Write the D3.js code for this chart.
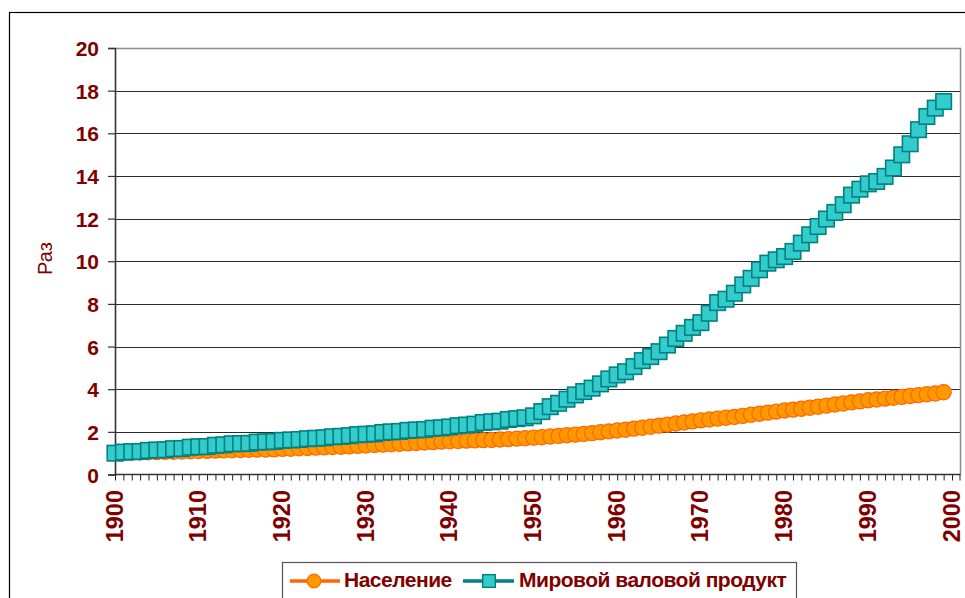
<!DOCTYPE html>
<html><head><meta charset="utf-8">
<script src="https://cdn.jsdelivr.net/npm/d3@7/dist/d3.min.js"></script>
<style>
html,body{margin:0;padding:0;background:#fff;}
svg{display:block;font-family:"Liberation Sans",Arial,sans-serif;}
</style></head>
<body>
<svg id="chart" width="965" height="598"></svg>
<script>
const years = d3.range(1900, 2000);
const population = [
1.00,1.01,1.02,1.03,1.04,1.05,1.06,1.07,1.08,1.09,
1.10,1.11,1.12,1.13,1.14,1.15,1.16,1.17,1.17,1.18,
1.20,1.21,1.23,1.24,1.26,1.27,1.29,1.30,1.32,1.34,
1.36,1.38,1.40,1.42,1.44,1.46,1.48,1.50,1.52,1.54,
1.56,1.57,1.59,1.60,1.61,1.62,1.64,1.66,1.68,1.70,
1.73,1.75,1.78,1.81,1.84,1.87,1.90,1.94,1.98,2.02,
2.06,2.10,2.15,2.19,2.24,2.29,2.34,2.39,2.44,2.49,
2.54,2.58,2.62,2.66,2.70,2.75,2.80,2.85,2.90,2.95,
3.00,3.04,3.08,3.13,3.18,3.23,3.28,3.33,3.38,3.43,
3.48,3.52,3.56,3.60,3.64,3.68,3.72,3.76,3.80,3.86];
const gdp = [
1.00,1.05,1.07,1.08,1.13,1.15,1.16,1.21,1.22,1.28,
1.30,1.31,1.37,1.39,1.44,1.45,1.46,1.52,1.53,1.55,
1.60,1.62,1.64,1.68,1.70,1.72,1.77,1.79,1.82,1.87,
1.89,1.91,1.97,2.00,2.02,2.07,2.09,2.11,2.17,2.19,
2.23,2.29,2.32,2.36,2.44,2.47,2.50,2.58,2.62,2.66,
2.75,2.95,3.18,3.34,3.53,3.73,3.89,4.05,4.25,4.48,
4.67,4.82,5.06,5.34,5.53,5.76,6.07,6.38,6.62,6.90,
7.12,7.56,8.06,8.22,8.50,8.89,9.20,9.60,9.91,10.07,
10.22,10.46,10.85,11.24,11.63,11.98,12.29,12.65,13.10,13.38,
13.63,13.74,13.98,14.37,14.99,15.51,16.17,16.79,17.18,17.49];
const yTicks = [0,2,4,6,8,10,12,14,16,18,20];
const xTickLabels = [1900,1910,1920,1930,1940,1950,1960,1970,1980,1990,2000];
const seriesNames = ["Население","Мировой валовой продукт"];
const yAxisTitle = "Раз";

const textColor = "#800000";
const svg = d3.select("#chart");

// chart border
svg.append("rect").attr("x",9.5).attr("y",12.5).attr("width",1000).attr("height",1000)
  .attr("fill","#fff").attr("stroke","#000").attr("stroke-width",1.2);

const L=115, R=960, T=48, B=474.5;
const x = d3.scaleLinear().domain([1900,2000]).range([L,952]);
const y = d3.scaleLinear().domain([0,20]).range([B,T]);

// plot area
svg.append("rect").attr("x",L).attr("y",T).attr("width",R-L).attr("height",B-T).attr("fill","#fff");

// grid
svg.append("g").selectAll("line").data(yTicks.filter(d=>d>0 && d<20)).join("line")
  .attr("x1",L).attr("x2",R).attr("y1",d=>Math.round(y(d))+0.5).attr("y2",d=>Math.round(y(d))+0.5)
  .attr("stroke","#2a2a2a").attr("stroke-width",1);
// plot border top/right
svg.append("path").attr("d",`M${L},${T+0.5}H${R+0.5}V${B}`).attr("fill","none")
  .attr("stroke","#8c8c8c").attr("stroke-width",1.5);

// y axis
const yAxis = d3.axisLeft(y).tickValues(yTicks).tickSize(7).tickPadding(9).tickFormat(d3.format("d"));
const gy = svg.append("g").attr("transform",`translate(${L},0)`).call(yAxis);
gy.select(".domain").attr("stroke","#333").attr("stroke-width",1.6);
gy.selectAll(".tick line").attr("stroke","#333").attr("stroke-width",1.2);
gy.selectAll(".tick text").attr("fill",textColor).attr("font-size","21px").attr("font-weight","bold")
  .attr("font-family","Liberation Sans, Arial, sans-serif").attr("dy","0.36em");

// x axis minor ticks each year
const xAxis = d3.axisBottom(x).tickValues(d3.range(1900,2001)).tickSize(6).tickSizeOuter(0).tickFormat("");
const gx = svg.append("g").attr("transform",`translate(0,${B})`).call(xAxis);
gx.select(".domain").remove();
gx.selectAll(".tick line").attr("stroke","#222").attr("stroke-width",1);
svg.append("line").attr("x1",L).attr("x2",R+0.5).attr("y1",B).attr("y2",B).attr("stroke","#333").attr("stroke-width",1.6);
svg.append("line").attr("x1",R).attr("x2",R).attr("y1",B).attr("y2",B+6).attr("stroke","#222").attr("stroke-width",1);

// x labels rotated
svg.append("g").selectAll("text").data(xTickLabels).join("text")
  .attr("transform",d=>`translate(${x(d)},490) rotate(-90)`)
  .attr("text-anchor","end").attr("dy","0.32em")
  .attr("fill",textColor).attr("font-size","23.5px").attr("font-weight","bold")
  .text(d=>d);

// y title
svg.append("text").attr("transform","translate(44.5,258.5) rotate(-90)")
  .attr("text-anchor","middle").attr("dy","0.36em")
  .attr("fill",textColor).attr("font-size","20px").text(yAxisTitle);

// series
const popData = years.map((yr,i)=>({yr, v:population[i]}));
const gdpData = years.map((yr,i)=>({yr, v:gdp[i]}));
const line = d3.line().x(d=>x(d.yr)).y(d=>y(d.v));

svg.append("path").datum(popData).attr("d",line).attr("fill","none").attr("stroke","#FF6600").attr("stroke-width",2.5);
svg.append("g").selectAll("circle").data(popData).join("circle")
  .attr("cx",d=>x(d.yr)).attr("cy",d=>y(d.v)).attr("r",7.6)
  .attr("fill","#FF9900").attr("stroke","#FF6600").attr("stroke-width",1.2);

svg.append("path").datum(gdpData).attr("d",line).attr("fill","none").attr("stroke","#008080").attr("stroke-width",2.5);
const sq = 15.5;
svg.append("g").selectAll("rect").data(gdpData).join("rect")
  .attr("x",d=>x(d.yr)-sq/2).attr("y",d=>y(d.v)-sq/2).attr("width",sq).attr("height",sq)
  .attr("fill","#33CCCC").attr("stroke","#008080").attr("stroke-width",1.6);

// legend
const lg = svg.append("g");
lg.append("rect").attr("x",282.5).attr("y",562.5).attr("width",514).attr("height",60)
  .attr("fill","#fff").attr("stroke","#555").attr("stroke-width",1.2);
const ly = 581;
lg.append("line").attr("x1",290).attr("x2",340).attr("y1",ly).attr("y2",ly).attr("stroke","#FF6600").attr("stroke-width",3.5);
lg.append("circle").attr("cx",314).attr("cy",ly).attr("r",6.8).attr("fill","#FF9900").attr("stroke","#FF6600").attr("stroke-width",1.2);
lg.append("text").attr("x",344).attr("y",587).attr("fill",textColor).attr("font-size","21px").attr("font-weight","bold")
  .attr("letter-spacing","-0.5px").text(seriesNames[0]);
lg.append("line").attr("x1",463).attr("x2",514).attr("y1",ly).attr("y2",ly).attr("stroke","#008080").attr("stroke-width",3.5);
lg.append("rect").attr("x",489-6.3).attr("y",ly-6.3).attr("width",12.6).attr("height",12.6).attr("fill","#33CCCC").attr("stroke","#008080").attr("stroke-width",1.4);
lg.append("text").attr("x",519).attr("y",587).attr("fill",textColor).attr("font-size","21px").attr("font-weight","bold")
  .attr("letter-spacing","-0.5px").text(seriesNames[1]);
</script>
</body></html>
